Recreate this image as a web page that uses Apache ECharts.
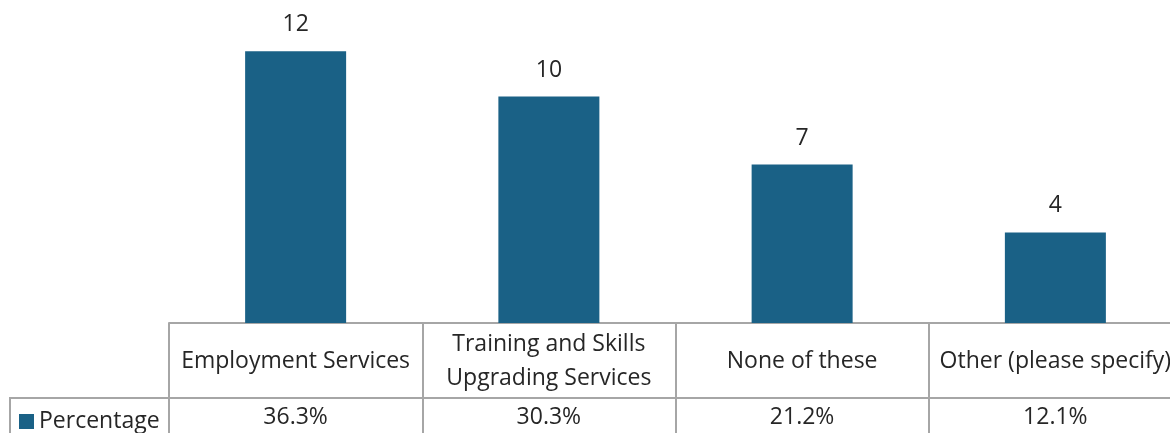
<!DOCTYPE html>
<html>
<head>
<meta charset="utf-8">
<script src="https://cdn.jsdelivr.net/npm/echarts@6/dist/echarts.min.js"></script>
<style>
  html, body { margin: 0; padding: 0; background: #fff; }
  #chart { width: 1170px; height: 433px; }
</style>
</head>
<body>
<div id="chart"></div>
<script>
const categories = ['Employment Services', 'Training and Skills\nUpgrading Services', 'None of these', 'Other (please specify)'];
const counts = [12, 10, 7, 4];
const percentages = ['36.3%', '30.3%', '21.2%', '12.1%'];

const FONT = 'Open Sans';
const TEXT = '#262626';
const LINE = '#a6a6a6';

let chart = echarts.init(document.getElementById('chart'));
chart.setOption({
  animation: false,
  textStyle: { fontFamily: FONT },
  legend: {
    left: 19,
    top: 410,
    padding: 0,
    icon: 'rect',
    itemWidth: 15,
    itemHeight: 15,
    textStyle: { fontFamily: FONT, fontSize: 23, color: TEXT },
    data: ['Percentage']
  },
  grid: {
    left: 169,
    top: 6,
    width: 1013,
    height: 317,
    outerBoundsMode: 'none'
  },
  xAxis: [
    {
      type: 'category',
      data: categories,
      axisLine: { lineStyle: { color: LINE, width: 2 } },
      axisTick: { show: true, length: 110, lineStyle: { color: LINE, width: 2 } },
      axisLabel: {
        interval: 0,
        margin: 38,
        verticalAlign: 'middle',
        fontFamily: FONT,
        fontSize: 23,
        lineHeight: 34,
        color: TEXT
      }
    },
    {
      type: 'category',
      position: 'bottom',
      offset: 75,
      data: categories,
      axisLine: { lineStyle: { color: LINE, width: 2 } },
      axisTick: { show: false },
      axisLabel: {
        interval: 0,
        margin: 19,
        verticalAlign: 'middle',
        fontFamily: FONT,
        fontSize: 23,
        color: TEXT,
        formatter: (v, i) => percentages[i]
      }
    }
  ],
  yAxis: {
    type: 'value',
    min: 0,
    max: 14,
    show: false,
    splitLine: { show: false }
  },
  graphic: [
    {
      type: 'polyline',
      shape: { points: [[10, 433], [10, 398], [169, 398]] },
      style: { stroke: LINE, lineWidth: 2, fill: null }
    }
  ],
  series: [
    {
      name: 'Percentage',
      type: 'bar',
      data: counts,
      barWidth: 101,
      itemStyle: { color: '#1a6186' },
      label: {
        show: true,
        position: 'top',
        distance: 15,
        fontFamily: FONT,
        fontSize: 23,
        color: TEXT
      }
    }
  ]
});
</script>
</body>
</html>
